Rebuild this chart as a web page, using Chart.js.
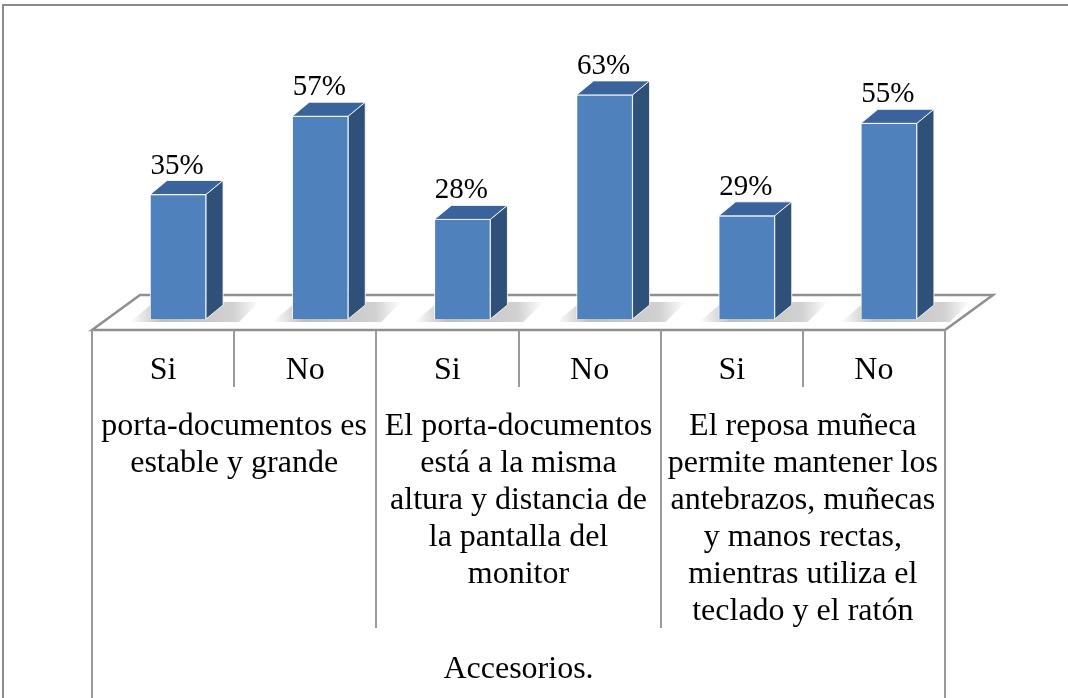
<!DOCTYPE html>
<html>
<head>
<meta charset="utf-8">
<script src="https://cdn.jsdelivr.net/npm/chart.js@4"></script>
<style>
  html, body { margin: 0; padding: 0; background: #fff; }
  canvas { display: block; }
</style>
</head>
<body>
<canvas id="myChart" width="1068" height="698"></canvas>
<script>
// data
const labels = ['Si', 'No', 'Si', 'No', 'Si', 'No'];
const values = [35, 57, 28, 63, 29, 55];
const groupLabels = [
    ['porta-documentos es', 'estable y grande'],
    ['El porta-documentos', 'está a la misma', 'altura y distancia de', 'la pantalla del', 'monitor'],
    ['El reposa muñeca', 'permite mantener los', 'antebrazos, muñecas', 'y manos rectas,', 'mientras utiliza el', 'teclado y el ratón']
];
const axisTitle = 'Accesorios.';

const SERIF = '"Liberation Serif", "Times New Roman", serif';
const depthX = 17, depthY = 14;   // bar depth
const floorDX = 48, floorDY = 35; // floor depth
const shift = 15;                 // bars sit this far back from the floor front edge

const boxes = {
    id: 'boxes',
    beforeDraw(chart) {
        const c = chart.ctx;
        const xs = chart.scales.x, ys = chart.scales.y;
        const base = ys.getPixelForValue(0);
        const left = xs.left - shift, right = xs.right - shift;
        const front = base + 11, back = front - floorDY;
        const step = (right - left) / labels.length;

        c.save();
        c.fillStyle = '#fff';
        c.fillRect(0, 0, chart.width, chart.height);

        // outer frame
        c.strokeStyle = '#8a8a8a';
        c.lineWidth = 2;
        c.beginPath();
        c.moveTo(3, chart.height);
        c.lineTo(3, 5);
        c.lineTo(chart.width, 5);
        c.stroke();

        // floor
        c.strokeStyle = '#8f8f8f';
        c.lineWidth = 2.5;
        c.beginPath();
        c.moveTo(left, front);
        c.lineTo(left + floorDX, back);
        c.lineTo(right + floorDX, back);
        c.lineTo(right, front);
        c.closePath();
        c.stroke();

        // category grid
        c.strokeStyle = '#9a9a9a';
        c.lineWidth = 2;
        for (let i = 0; i <= labels.length; i++) {
            const x = Math.round(left + i * step);
            let y2 = 387;
            if (i === 0 || i === labels.length) y2 = chart.height;
            else if (i % 2 === 0) y2 = 628;
            c.beginPath();
            c.moveTo(x, front);
            c.lineTo(x, y2);
            c.stroke();
        }

        // labels
        c.fillStyle = '#000';
        c.textAlign = 'center';
        c.textBaseline = 'alphabetic';
        c.font = '32px ' + SERIF;
        labels.forEach((l, i) => {
            c.fillText(l, left + (i + 0.5) * step, 379);
        });
        groupLabels.forEach((lines, g) => {
            const cx = left + (g * 2 + 1) * step;
            lines.forEach((t, k) => c.fillText(t, cx, 435 + k * 37));
        });
        c.fillText(axisTitle, (left + right) / 2, 678);

        // soft shadows on floor
        const meta = chart.getDatasetMeta(0);
        meta.data.forEach(bar => {
            const w = bar.width;
            const x0 = bar.x - w / 2 - 20, x1 = bar.x + w / 2 + depthX + 36;
            const g = c.createLinearGradient(x0, 0, x1, 0);
            g.addColorStop(0, 'rgba(0,0,0,0)');
            g.addColorStop(0.25, 'rgba(0,0,0,0.25)');
            g.addColorStop(0.8, 'rgba(0,0,0,0.18)');
            g.addColorStop(1, 'rgba(0,0,0,0)');
            c.fillStyle = g;
            c.beginPath();
            c.moveTo(x0, base + 3);
            c.lineTo(x0 + 24, base - 17);
            c.lineTo(x1, base - 17);
            c.lineTo(x1 - 20, base + 3);
            c.closePath();
            c.fill();
        });
        c.restore();
    },
    afterDatasetsDraw(chart) {
        const c = chart.ctx;
        const meta = chart.getDatasetMeta(0);
        c.save();
        c.lineWidth = 1;
        c.strokeStyle = 'rgba(255,255,255,0.85)';
        meta.data.forEach((bar, i) => {
            const w = bar.width;
            const l = bar.x - w / 2, r = bar.x + w / 2;
            const top = bar.y, base = bar.base;
            // top face
            c.fillStyle = '#3a639b';
            c.beginPath();
            c.moveTo(l, top);
            c.lineTo(l + depthX, top - depthY);
            c.lineTo(r + depthX, top - depthY);
            c.lineTo(r, top);
            c.closePath();
            c.fill();
            c.stroke();
            // side face
            c.fillStyle = '#2f5079';
            c.beginPath();
            c.moveTo(r, top);
            c.lineTo(r + depthX, top - depthY);
            c.lineTo(r + depthX, base - depthY);
            c.lineTo(r, base);
            c.closePath();
            c.fill();
            c.stroke();
            // value label
            c.fillStyle = '#000';
            c.font = '29px ' + SERIF;
            c.textAlign = 'center';
            c.textBaseline = 'alphabetic';
            c.fillText(values[i] + '%', bar.x - 1, top - depthY - 7);
        });
        c.restore();
    }
};

const ctx = document.getElementById('myChart').getContext('2d');
const chart = new Chart(ctx, {
    type: 'bar',
    data: {
        labels: labels,
        datasets: [{
            data: values,
            backgroundColor: '#4f81bd',
            borderColor: 'rgba(255,255,255,0.85)',
            borderWidth: 1,
            barThickness: 56
        }]
    },
    options: {
        responsive: false,
        devicePixelRatio: 1,
        animation: false,
        layout: { padding: { left: 107, right: 108, top: 70, bottom: 379 } },
        plugins: {
            legend: { display: false },
            tooltip: { enabled: false }
        },
        scales: {
            x: { display: false },
            y: { display: false, min: 0, max: 70 }
        }
    },
    plugins: [boxes]
});
</script>
</body>
</html>
